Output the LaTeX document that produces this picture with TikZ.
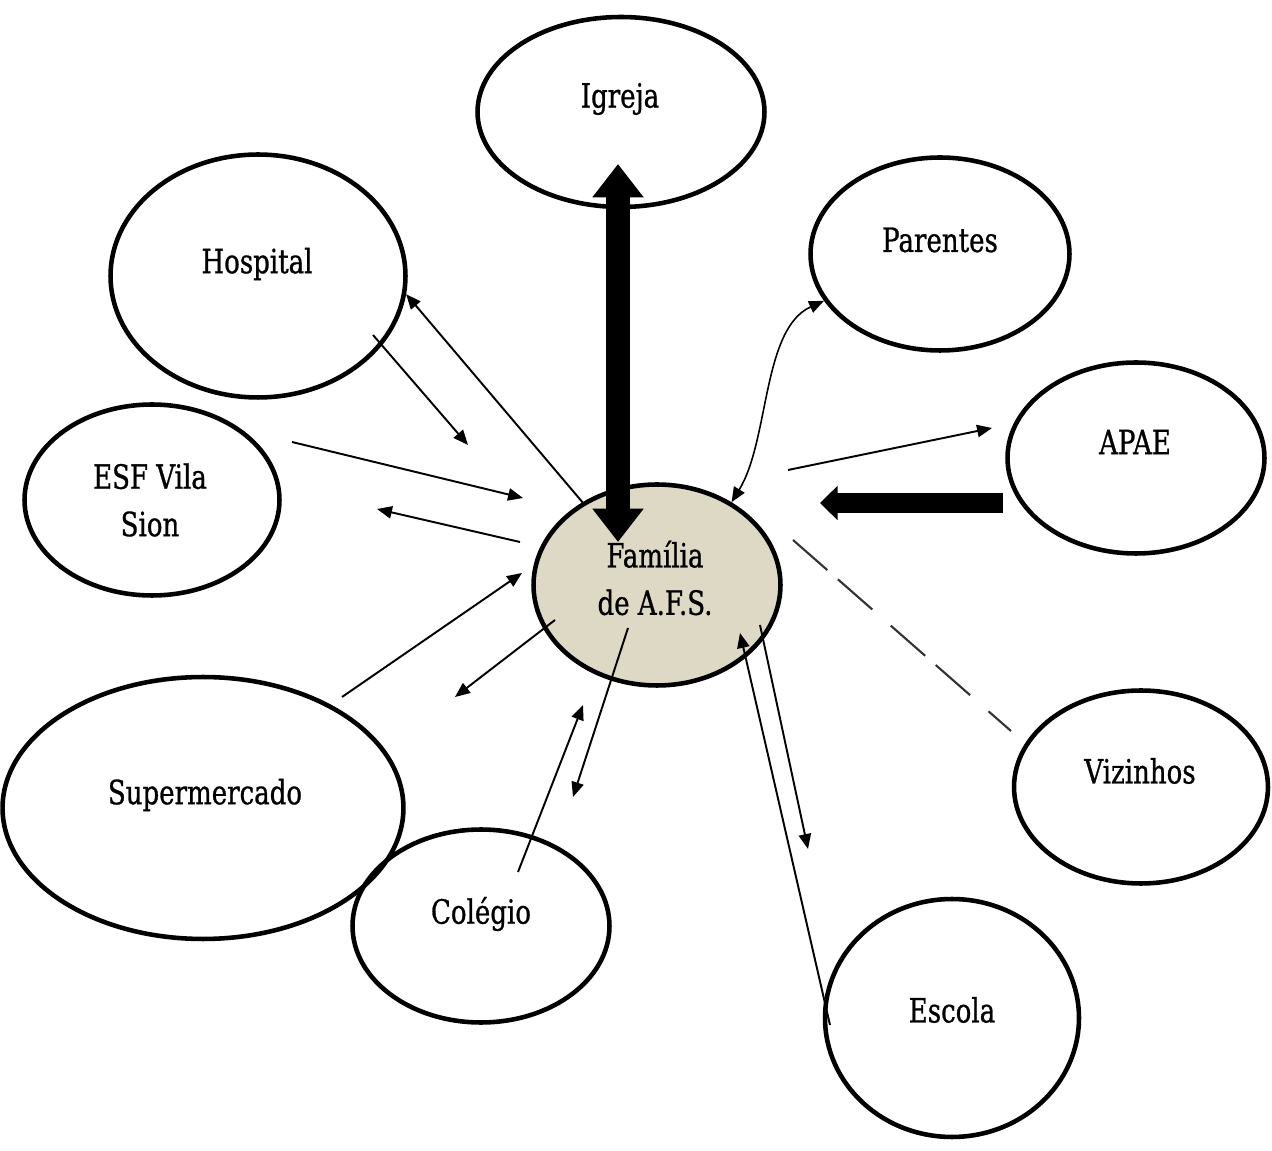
\documentclass[tikz,border=0pt]{standalone}
\usepackage{fontspec}
\setmainfont{DejaVu Serif}[FakeStretch=0.78,FakeBold=0.8]
\usetikzlibrary{shapes.geometric,arrows.meta}
\definecolor{familyfill}{RGB}{221,217,196}

\begin{document}
\begin{tikzpicture}[x=0.02cm, y=-0.02cm,
    every node/.style={font=\fontsize{19}{27}\selectfont},
    bubble/.style={ellipse, draw, line width=2.6pt, inner sep=0pt},
    link/.style={line width=1.1pt, -{Triangle[length=8.5pt,width=7pt]}},
    bothlink/.style={line width=0.9pt, {Triangle[length=8.5pt,width=7pt]}-{Triangle[length=8.5pt,width=7pt]}},
    heavylink/.style={line width=11pt, -{Triangle[length=10pt,width=19pt]}},
    heavyboth/.style={line width=13.5pt, {Triangle[length=19pt,width=28pt]}-{Triangle[length=19pt,width=28pt]}},
    weaklink/.style={line width=1.2pt, draw=black!80, dash pattern=on 26pt off 8pt on 26pt off 14pt}]
    \useasboundingbox (0,0) rectangle (1272,1151);

    % Network members
    \node[bubble, minimum width=5.74cm, minimum height=3.80cm] (igreja) at (621,112) {};
    \node[bubble, minimum width=5.90cm, minimum height=4.86cm] (hospital) at (258,276) {};
    \node[bubble, minimum width=5.18cm, minimum height=3.86cm] (parentes) at (940,254) {};
    \node[bubble, minimum width=5.10cm, minimum height=3.82cm] (esf) at (152,500) {};
    \node[bubble, minimum width=5.14cm, minimum height=3.82cm] (apae) at (1136,458) {};
    \node[bubble, minimum width=8.02cm, minimum height=5.24cm] (super) at (203,808) {};
    \node[bubble, minimum width=5.14cm, minimum height=3.86cm] (colegio) at (481,926) {};
    \node[bubble, minimum width=5.08cm, minimum height=3.86cm] (vizinhos) at (1141,787) {};
    \node[bubble, minimum width=5.08cm, minimum height=4.76cm] (escola) at (952,1018) {};

    % Family
    \node[bubble, fill=familyfill, minimum width=4.94cm, minimum height=4.02cm] (familia) at (657,585) {};

    % Labels
    \node (igrejaTxt) at (620,99) {Igreja};
    \node (hospitalTxt) at (257,264) {Hospital};
    \node (parentesTxt) at (940,240) {Parentes};
    \node[align=center] (esfTxt) at (150,500) {ESF Vila\\Sion};
    \node (apaeTxt) at (1135,442) {APAE};
    \node[align=center] (familiaTxt) at (655,578) {Família\\de A.F.S.};
    \node (superTxt) at (205,795) {Supermercado};
    \node (colegioTxt) at (481,914) {Colégio};
    \node (vizinhosTxt) at (1140,771) {Vizinhos};
    \node (escolaTxt) at (952,1010) {Escola};

    % Free arrow ends
    \coordinate (igTip) at (618,164);
    \coordinate (faTop) at (618,542);
    \coordinate (hoOut) at (373,335);
    \coordinate (hoIn) at (468,445);
    \coordinate (esOut) at (292,442);
    \coordinate (esIn) at (523,498);
    \coordinate (faEsf) at (520,542);
    \coordinate (esTip) at (377,509);
    \coordinate (suOut) at (342,697);
    \coordinate (suIn) at (522,573);
    \coordinate (faLeft) at (555,620);
    \coordinate (leftTip) at (455,697);
    \coordinate (coOut) at (518,872);
    \coordinate (coIn) at (583,705);
    \coordinate (faCo) at (628,628);
    \coordinate (coTip) at (573,797);
    \coordinate (scOut) at (830,1025);
    \coordinate (scIn) at (740,633);
    \coordinate (faSc) at (760,625);
    \coordinate (scTip) at (808,849);
    \coordinate (faAp) at (788,470);
    \coordinate (apTip) at (992,428);
    \coordinate (apOut) at (1003,503);
    \coordinate (apIn) at (820,503);
    \coordinate (faVi) at (793,540);
    \coordinate (viEnd) at (1011,731);

    % Connections
    \draw[heavyboth] (igTip) -- (faTop);
    \draw[link] (familia.132) -- (hospital.-7);
    \draw[link] (hoOut) -- (hoIn);
    \draw[link] (esOut) -- (esIn);
    \draw[link] (faEsf) -- (esTip);
    \draw[link] (suOut) -- (suIn);
    \draw[link] (faLeft) -- (leftTip);
    \draw[link] (coOut) -- (coIn);
    \draw[link] (faCo) -- (coTip);
    \draw[link] (scOut) -- (scIn);
    \draw[link] (faSc) -- (scTip);
    \draw[link] (faAp) -- (apTip);
    \draw[heavylink] (apOut) -- (apIn);
    \draw[bothlink] (familia.48) .. controls +(38,-62) and +(-62,28) .. (parentes.202);
    \draw[weaklink] (faVi) -- (viEnd);
\end{tikzpicture}
\end{document}
